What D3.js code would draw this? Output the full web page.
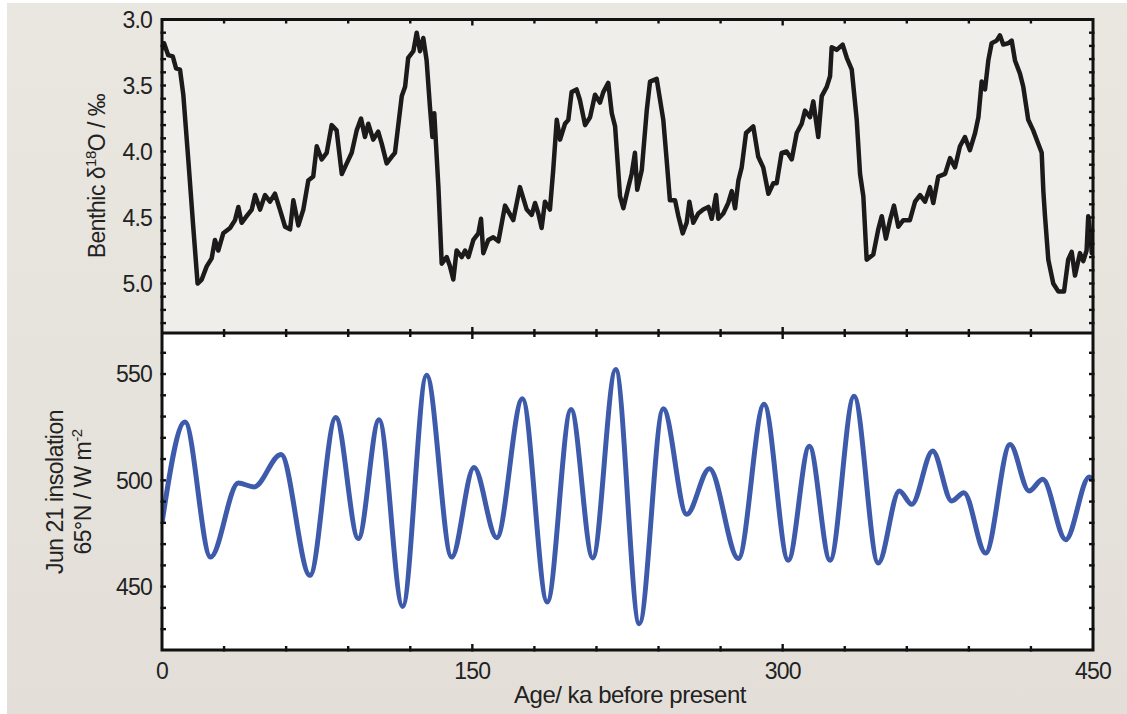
<!DOCTYPE html>
<html><head><meta charset="utf-8">
<script src="https://cdn.jsdelivr.net/npm/d3@7"></script>
<style>
body{margin:0;background:#fff}
svg{display:block}
text{font-family:"Liberation Sans",Arial,Helvetica,sans-serif;fill:#222}
</style>
</head><body>
<svg id="chart" width="1127" height="714"></svg>
<script>
// ---------- data ----------
const xTickLabels = [0, 150, 300, 450];
const d18oTickLabels = [3.0, 3.5, 4.0, 4.5, 5.0];
const insolTickLabels = [450, 500, 550];

const benthicAge = [0,1,3,5.2,6.8,8.7,10.3,12.7,15.1,17.2,19.2,21.6,24,25.6,27.2,29.6,32.9,35.3,36.9,38.5,40.9,43.4,45,47.4,49.8,52.2,54.6,57,59.5,61.9,63.5,65.9,68.3,70.7,73.1,74.8,77.2,79.6,82,84.4,86.9,89.3,91.7,94.1,96.2,98.1,99.7,102.1,104.5,106.2,108.6,111,112.6,115.9,117.5,119,121.5,123.1,124.7,126.3,127.9,129.5,130.7,131.6,133.6,135.2,137.6,139.2,140.8,142.4,144.9,146.5,148.1,150.5,152.9,154.2,155.3,157.7,160.1,162.6,165.8,169.8,173,176.3,178.7,180.3,181.9,183.5,185.1,187.5,189.1,190.8,192.4,194.8,196.4,198,200.4,202,204.5,206.9,209.3,211.7,213.3,215.7,217.4,219,221.4,223,225.4,227,228.6,229.7,231.9,234.3,235.9,239.1,242.3,243.9,245.5,248,249.6,251.7,253.6,254.9,256.8,259.2,261.6,264.1,265.7,267.8,268.9,271.3,273.7,275.4,277,278.6,280.2,282.3,285.8,288.2,290.6,293.1,295.5,297.1,299.5,301.9,304.4,306.8,309.2,310.8,313.2,314.8,317.2,318.9,321.3,322.9,323.7,326.1,329,331,333.4,335.8,337.4,339,340.6,343.8,346.2,347.9,349.9,351.9,353.8,355.9,358.3,361.5,364,366.4,368.8,371.2,372.8,375.2,378.5,380.9,383.3,385.7,388.1,390.5,393,394.6,396.2,397.8,399.4,401,403.4,405,406.6,409,410.7,412.3,414.7,416.3,418.7,421.1,423.5,425.2,426,426.8,428.4,430.8,433.2,436,438,439.7,441.3,443.7,445.3,446.9,447.7,448.9,449.4,450];
const benthicD18O = [3.23,3.18,3.27,3.28,3.37,3.38,3.57,4.06,4.57,5.00,4.97,4.87,4.81,4.67,4.75,4.62,4.58,4.52,4.42,4.54,4.49,4.44,4.33,4.44,4.33,4.38,4.32,4.44,4.57,4.59,4.37,4.56,4.44,4.22,4.19,3.96,4.06,4.01,3.80,3.84,4.17,4.09,4.01,3.84,3.75,3.89,3.79,3.91,3.85,3.94,4.09,4.04,4.01,3.58,3.51,3.29,3.24,3.10,3.24,3.14,3.31,3.66,3.89,3.71,4.27,4.85,4.80,4.87,4.97,4.75,4.80,4.75,4.80,4.67,4.62,4.51,4.77,4.67,4.65,4.68,4.41,4.52,4.27,4.44,4.48,4.39,4.47,4.58,4.38,4.44,4.14,3.76,3.91,3.79,3.76,3.55,3.53,3.61,3.80,3.74,3.57,3.63,3.55,3.48,3.71,3.81,4.34,4.43,4.27,4.17,4.01,4.29,4.14,3.69,3.47,3.45,3.76,4.06,4.37,4.37,4.49,4.62,4.54,4.38,4.54,4.47,4.44,4.42,4.51,4.33,4.51,4.47,4.39,4.30,4.43,4.22,4.12,3.86,3.81,4.04,4.12,4.32,4.24,4.24,4.01,4.00,4.06,3.86,3.79,3.69,3.74,3.62,3.89,3.58,3.51,3.43,3.21,3.23,3.19,3.29,3.38,3.76,4.17,4.34,4.82,4.78,4.59,4.49,4.66,4.52,4.41,4.57,4.52,4.52,4.38,4.33,4.38,4.27,4.39,4.19,4.17,4.05,4.12,3.96,3.89,3.99,3.86,3.74,3.47,3.53,3.31,3.18,3.16,3.12,3.19,3.18,3.16,3.31,3.41,3.51,3.76,3.84,3.94,4.01,4.30,4.49,4.82,5.00,5.06,5.06,4.82,4.76,4.94,4.77,4.83,4.75,4.49,4.65,4.77,4.60];

const insolAge = [0,11.1,23.5,36.9,44.5,57.5,71.5,84,94.9,104.9,116.3,127.9,140,150.8,161.8,174.2,186.2,197.7,208.2,219.3,230.7,242.3,253.6,264.6,278.6,291,302.7,312.9,322.9,334.5,346.2,356.4,362.4,372.5,381.7,387.6,398.1,409.9,419.1,425.7,436.8,448.2,450];
const insolValue = [480,527.4,463.9,498.7,496.9,512.2,455.3,529.5,472.6,528.5,440.7,549.4,463.9,506,473,538.4,442.8,533.3,463.5,552.1,432.6,533.7,484,505.5,463.2,535.8,462.4,516,462.4,539.5,461.1,495,488.7,513.8,490.3,494.2,465.8,516.8,495,500.5,472.1,501.6,500];

// ---------- layout ----------
const W = 1127, H = 714;
const L = 162, R = 1093, T = 19.5, MID = 333, B = 650;
const svg = d3.select("#chart");

svg.append("rect").attr("x",0).attr("y",0).attr("width",W).attr("height",H).attr("fill","#ffffff");
const defs = svg.append("defs");
const grad = defs.append("linearGradient").attr("id","bg").attr("x1",0).attr("y1",0).attr("x2",0).attr("y2",1);
grad.append("stop").attr("offset","0%").attr("stop-color","#eae7e1");
grad.append("stop").attr("offset","100%").attr("stop-color","#e3dfd8");
svg.append("rect").attr("x",7).attr("y",3).attr("width",W-7).attr("height",H-3).attr("fill","url(#bg)");
svg.append("rect").attr("x",L).attr("y",T).attr("width",R-L).attr("height",MID-T).attr("fill","#f0eeea");
svg.append("rect").attr("x",L).attr("y",MID).attr("width",R-L).attr("height",B-MID).attr("fill","#ffffff");

const x = d3.scaleLinear().domain([0,450]).range([L,R]);
const yTop = d3.scaleLinear().domain([3.0,5.375]).range([T,MID]);
const yBot = d3.scaleLinear().domain([420.2,569.3]).range([B,MID]);

defs.append("clipPath").attr("id","clipTop").append("rect").attr("x",L).attr("y",T).attr("width",R-L).attr("height",MID-T);
defs.append("clipPath").attr("id","clipBot").append("rect").attr("x",L).attr("y",MID).attr("width",R-L).attr("height",B-MID);

const benthic = benthicAge.map((a,i)=>[a,benthicD18O[i]]);
const insol = insolAge.map((a,i)=>[a,insolValue[i]]);
svg.append("path").datum(benthic).attr("clip-path","url(#clipTop)")
  .attr("d", d3.line().x(d=>x(d[0])).y(d=>yTop(d[1])))
  .attr("fill","none").attr("stroke","#1c1a1a").attr("stroke-width",4.5).attr("stroke-linejoin","round");
svg.append("path").datum(insol).attr("clip-path","url(#clipBot)")
  .attr("d", d3.line().x(d=>x(d[0])).y(d=>yBot(d[1])).curve(d3.curveMonotoneX))
  .attr("fill","none").attr("stroke","#3e5aaa").attr("stroke-width",5).attr("stroke-linejoin","round");

const tickG = svg.append("g").attr("stroke","#111").attr("stroke-width",2.4);
const xMinor = d3.range(30,450,30);
[T,MID,B].forEach(yy=>{
  xMinor.forEach(v=>{
    const big = (v%150===0);
    if (yy!==T) tickG.append("line").attr("x1",x(v)).attr("x2",x(v)).attr("y1",yy-(big?6:4)).attr("y2",yy+1.5);
    if (yy!==B) tickG.append("line").attr("x1",x(v)).attr("x2",x(v)).attr("y1",yy-1.5).attr("y2",yy+(big?6:4));
  });
});
d3.range(31,54).map(v=>v/10).forEach(v=>{
  const yy = yTop(v);
  tickG.append("line").attr("x1",L-1.5).attr("x2",L+4).attr("y1",yy).attr("y2",yy);
  tickG.append("line").attr("x1",R-4).attr("x2",R+1.5).attr("y1",yy).attr("y2",yy);
});
d3.range(430,570,10).forEach(v=>{
  const yy = yBot(v);
  tickG.append("line").attr("x1",L-1.5).attr("x2",L+4).attr("y1",yy).attr("y2",yy);
  tickG.append("line").attr("x1",R-4).attr("x2",R+1.5).attr("y1",yy).attr("y2",yy);
});

svg.append("rect").attr("x",L).attr("y",T).attr("width",R-L).attr("height",B-T)
  .attr("fill","none").attr("stroke","#111").attr("stroke-width",3);
svg.append("line").attr("x1",L).attr("x2",R).attr("y1",MID).attr("y2",MID).attr("stroke","#111").attr("stroke-width",3);

const fs = 23;
svg.append("g").selectAll("text").data(d18oTickLabels).join("text")
  .attr("x",152).attr("y",d=>yTop(d)).attr("dy","0.36em").attr("text-anchor","end")
  .attr("font-size",fs).attr("letter-spacing","-0.8")
  .text(d=>d3.format(".1f")(d));
svg.append("g").selectAll("text").data(insolTickLabels).join("text")
  .attr("x",152).attr("y",d=>yBot(d)).attr("dy","0.36em").attr("text-anchor","end")
  .attr("font-size",fs).attr("letter-spacing","-0.8")
  .text(d=>d);
svg.append("g").selectAll("text").data(xTickLabels).join("text")
  .attr("x",d=>x(d)).attr("y",671).attr("dy","0.36em").attr("text-anchor","middle")
  .attr("font-size",fs).attr("letter-spacing","-0.8")
  .text(d=>d);

const t1 = svg.append("text").attr("transform","translate(105,176) rotate(-90)")
  .attr("text-anchor","middle").attr("font-size",23).attr("letter-spacing","-0.5");
t1.append("tspan").text("Benthic δ");
t1.append("tspan").attr("font-size",15).attr("dy",-9).text("18");
t1.append("tspan").attr("dy",9).text("O / ‰");

svg.append("text").attr("transform","translate(63,492) rotate(-90)")
  .attr("text-anchor","middle").attr("font-size",23).attr("letter-spacing","-0.5")
  .text("Jun 21 insolation");
const t3 = svg.append("text").attr("transform","translate(91,492) rotate(-90)")
  .attr("text-anchor","middle").attr("font-size",23).attr("letter-spacing","-0.5");
t3.append("tspan").text("65°N / W m");
t3.append("tspan").attr("font-size",15).attr("dy",-9).text("-2");

svg.append("text").attr("x",630).attr("y",703).attr("text-anchor","middle")
  .attr("font-size",24).attr("letter-spacing","-0.5").text("Age/ ka before present");
</script>
</body></html>
